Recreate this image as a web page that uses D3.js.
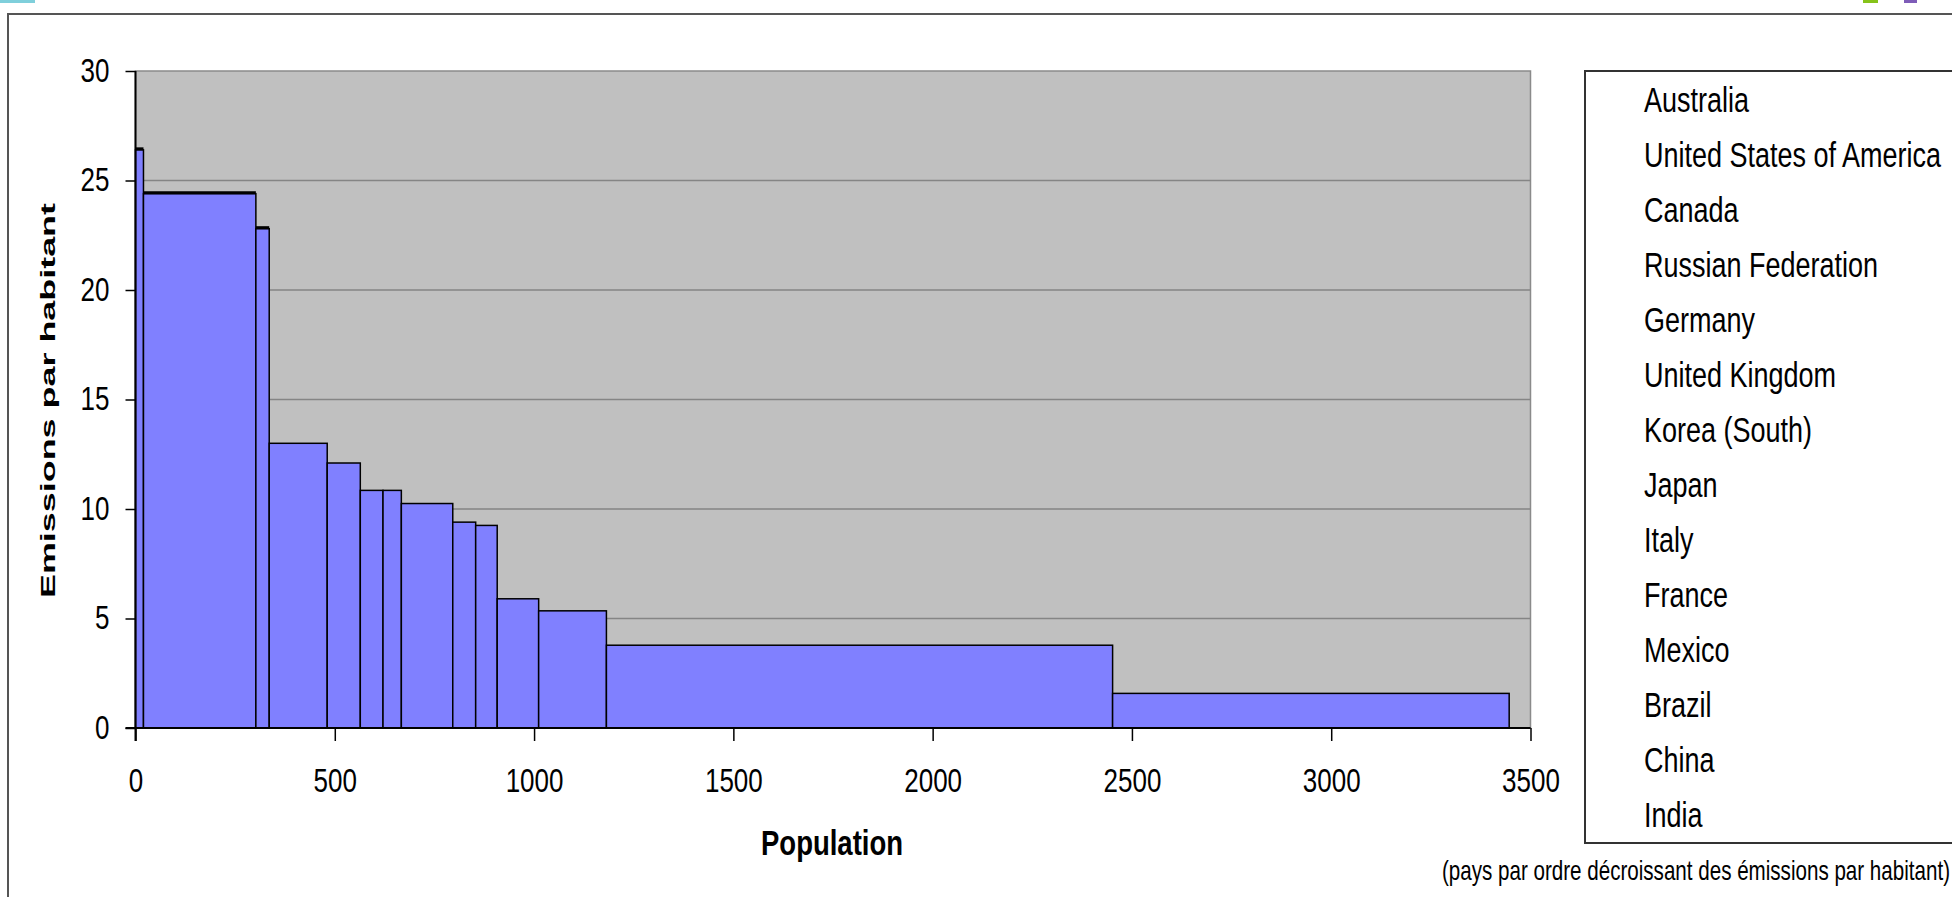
<!DOCTYPE html>
<html>
<head>
<meta charset="utf-8">
<script src="https://cdnjs.cloudflare.com/ajax/libs/d3/7.8.5/d3.min.js"></script>
<style>
  html, body { margin: 0; padding: 0; background: #ffffff; }
  svg { display: block; }
  text { font-family: "Liberation Sans", Arial, sans-serif; fill: #000; }
</style>
</head>
<body>
<svg id="chart" width="1952" height="897"></svg>
<script>
// ---- data (countries in decreasing order of per-capita emissions) ----
const countries = ["Australia", "United States of America", "Canada", "Russian Federation",
  "Germany", "United Kingdom", "Korea (South)", "Japan", "Italy", "France",
  "Mexico", "Brazil", "China", "India"];
const population = [20, 282, 33.5, 145.5, 83, 57, 46, 129, 57.5, 54, 104, 170, 1270, 995]; // millions
const emissionsPerCapita = [26.4, 24.4, 22.8, 13.0, 12.1, 10.85, 10.85, 10.25, 9.4, 9.25, 5.9, 5.35, 3.78, 1.58];
const xTicks = [0, 500, 1000, 1500, 2000, 2500, 3000, 3500];
const yTicks = [0, 5, 10, 15, 20, 25, 30];
const xTitle = "Population";
const yTitle = "Emissions par habitant";
const footnote = "(pays par ordre décroissant des émissions par habitant)";

// ---- layout ----
const svg = d3.select("#chart");
const pLeft = 135.5, pRight = 1530.5, pTop = 71, pBottom = 728;
const VS = 1.3; // vertical stretch of glyphs in the reference

const x = d3.scaleLinear().domain([0, 3500]).range([pLeft, pRight]);
const y = d3.scaleLinear().domain([0, 30]).range([pBottom, pTop]);

// decorations at very top
svg.append("rect").attr("x", 0).attr("y", 0).attr("width", 35).attr("height", 3).attr("fill", "#7fcfdb");
svg.append("rect").attr("x", 1863).attr("y", 0).attr("width", 15).attr("height", 3).attr("fill", "#86c31a");
svg.append("rect").attr("x", 1904).attr("y", 0).attr("width", 13).attr("height", 3).attr("fill", "#7e5cb8");

// outer chart frame (runs off the bottom/right of the picture)
svg.append("rect").attr("x", 8).attr("y", 14).attr("width", 2000).attr("height", 1000)
  .attr("fill", "#fff").attr("stroke", "#555").attr("stroke-width", 2);

// plot background
svg.append("rect").attr("x", pLeft).attr("y", pTop).attr("width", pRight - pLeft).attr("height", pBottom - pTop)
  .attr("fill", "#c0c0c0").attr("stroke", "#8a8a8a").attr("stroke-width", 1.5);

// gridlines
svg.append("g").selectAll("line").data(yTicks.filter(d => d > 0 && d < 30)).join("line")
  .attr("x1", pLeft).attr("x2", pRight)
  .attr("y1", d => y(d)).attr("y2", d => y(d))
  .attr("stroke", "#858585").attr("stroke-width", 1.5);

// bars (variable width: width = population, height = emissions per capita)
const cum = [];
population.reduce((acc, p, i) => { cum[i] = acc; return acc + p; }, 0);
const bars = countries.map((c, i) => ({ c, x0: cum[i], x1: cum[i] + population[i], v: emissionsPerCapita[i], i }));

svg.append("g").selectAll("rect").data(bars).join("rect")
  .attr("x", d => x(d.x0)).attr("width", d => x(d.x1) - x(d.x0))
  .attr("y", d => y(d.v)).attr("height", d => y(0) - y(d.v))
  .attr("fill", "#8080ff").attr("stroke", "#000").attr("stroke-width", 1.5);

// thicker top edge on the three leading bars, as in the reference
svg.append("g").selectAll("line").data(bars.filter(d => d.i < 3)).join("line")
  .attr("x1", d => x(d.x0)).attr("x2", d => x(d.x1))
  .attr("y1", d => y(d.v) - 1).attr("y2", d => y(d.v) - 1)
  .attr("stroke", "#000").attr("stroke-width", 3);

// axes
const gx = svg.append("g").attr("transform", `translate(0,${pBottom})`)
  .call(d3.axisBottom(x).tickValues(xTicks).tickSize(13).tickSizeOuter(0).tickFormat(d3.format("d")));
gx.select(".domain").attr("stroke", "#000").attr("stroke-width", 2).attr("d", `M${pLeft - 10},0H${pRight}`);
gx.selectAll(".tick line").attr("stroke", "#000").attr("stroke-width", 1.5);
gx.selectAll(".tick text").attr("y", null).attr("dy", null)
  .attr("transform", `translate(0,64) scale(1,${VS})`)
  .attr("font-size", 26).attr("text-anchor", "middle").attr("fill", "#000");

const gy = svg.append("g").attr("transform", `translate(${pLeft},0)`)
  .call(d3.axisLeft(y).tickValues(yTicks).tickSize(10).tickSizeOuter(0).tickFormat(d3.format("d")));
gy.select(".domain").attr("stroke", "#000").attr("stroke-width", 2).attr("d", `M0,${pTop}V${pBottom + 13}`);
gy.selectAll(".tick line").attr("stroke", "#000").attr("stroke-width", 1.5);
gy.selectAll(".tick text").attr("x", null).attr("dy", null)
  .attr("transform", `translate(-26,10) scale(1,${VS})`)
  .attr("font-size", 26).attr("text-anchor", "end").attr("fill", "#000");

// axis titles
svg.append("text").attr("transform", `translate(832,855) scale(1,${VS})`)
  .attr("text-anchor", "middle").attr("font-size", 27.5).attr("font-weight", "bold").text(xTitle);

svg.append("text").attr("transform", `translate(55,400.5) rotate(-90)`)
  .attr("text-anchor", "middle").attr("font-size", 21).attr("font-weight", "bold")
  .attr("textLength", 395).attr("lengthAdjust", "spacingAndGlyphs").text(yTitle);

// legend box (list of countries)
svg.append("rect").attr("x", 1585).attr("y", 71).attr("width", 500).attr("height", 772)
  .attr("fill", "#fff").attr("stroke", "#333").attr("stroke-width", 2);
svg.append("g").selectAll("text").data(countries).join("text")
  .attr("transform", (d, i) => `translate(1644,${111.7 + i * 55}) scale(1,${VS})`)
  .attr("font-size", 27).text(d => d);

// footnote
svg.append("text").attr("transform", `translate(1950,880) scale(1,${VS})`)
  .attr("text-anchor", "end").attr("font-size", 20.6).text(footnote);
</script>
</body>
</html>
